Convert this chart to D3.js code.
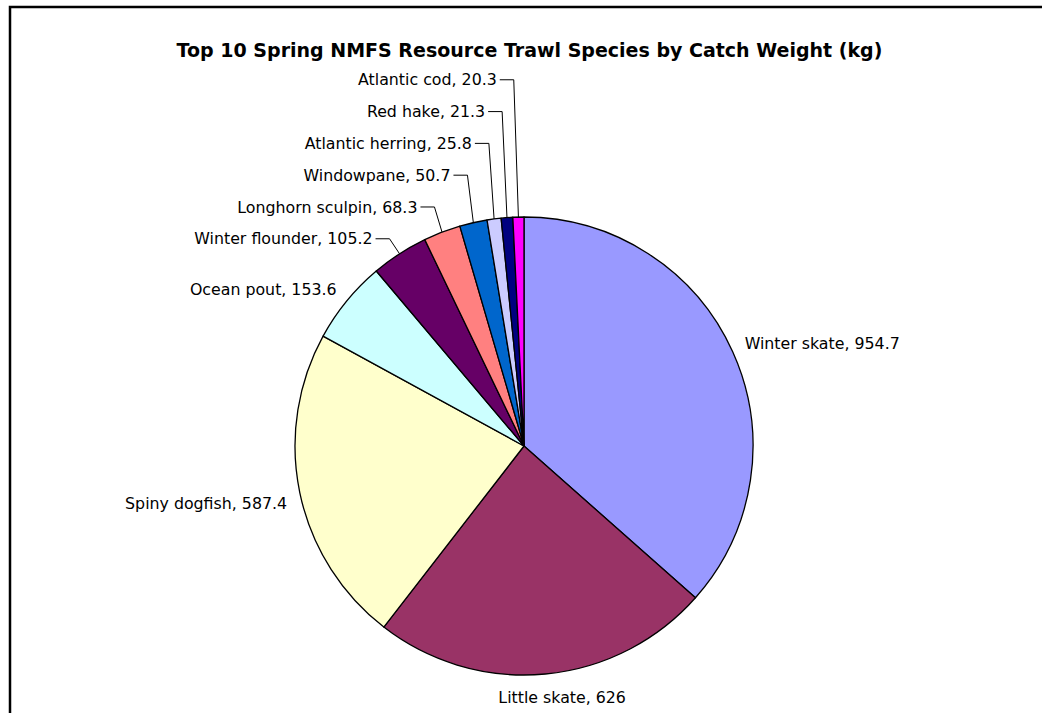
<!DOCTYPE html>
<html>
<head>
<meta charset="utf-8">
<script src="https://cdn.jsdelivr.net/npm/d3@7/dist/d3.min.js"></script>
<style>
  html, body { margin: 0; padding: 0; background: #fff; }
  svg { display: block; }
  text { font-family: "DejaVu Sans", Verdana, sans-serif; fill: #000; }
</style>
</head>
<body>
<svg id="chart" width="1042" height="713"></svg>
<script>
// ---- data ----
const categories = ["Winter skate", "Little skate", "Spiny dogfish", "Ocean pout", "Winter flounder",
  "Longhorn sculpin", "Windowpane", "Atlantic herring", "Red hake", "Atlantic cod"];
const values = [954.7, 626, 587.4, 153.6, 105.2, 68.3, 50.7, 25.8, 21.3, 20.3];
const colors = ["#9999FF", "#993366", "#FFFFCC", "#CCFFFF", "#660066",
  "#FF8080", "#0066CC", "#CCCCFF", "#000080", "#FF00FF"];
const title = "Top 10 Spring NMFS Resource Trawl Species by Catch Weight (kg)";

// ---- layout ----
const W = 1042, H = 713;
const cx = 524, cy = 446, R = 229;
const svg = d3.select("#chart");

// frame (cut off at right and bottom like the reference)
svg.append("rect").attr("x", 10).attr("y", 7).attr("width", 1100).attr("height", 800)
  .attr("fill", "#fff").attr("stroke", "#000").attr("stroke-width", 2.5);

svg.append("text").attr("x", 529.5).attr("y", 57).attr("text-anchor", "middle")
  .attr("font-weight", "bold").attr("font-size", 19).text(title);

const data = categories.map((c, i) => ({ name: c, value: values[i], color: colors[i], idx: i }));
const pie = d3.pie().sort(null).value(d => d.value).startAngle(0).endAngle(2 * Math.PI);
const arcs = pie(data);
const arc = d3.arc().innerRadius(0).outerRadius(R);

const g = svg.append("g").attr("transform", `translate(${cx},${cy})`);
g.selectAll("path.slice").data(arcs).join("path")
  .attr("class", "slice")
  .attr("d", arc)
  .attr("fill", d => d.data.color)
  .attr("stroke", "#000")
  .attr("stroke-width", 1.3)
  .attr("stroke-linejoin", "round");

const fs = 15.8;
const labelText = d => `${d.data.name}, ${d.data.value}`;
const mid = d => (d.startAngle + d.endAngle) / 2;

// large slices: labels placed outside, no leader
const Rl = 242, k = 2.6, hEff = 14;
const clamp = v => Math.max(-1, Math.min(1, v));
arcs.slice(0, 4).forEach(d => {
  const a = mid(d);
  const px = cx + Rl * Math.sin(a), py = cy - Rl * Math.cos(a);
  const t = svg.append("text").attr("font-size", fs).attr("text-anchor", "middle")
    .attr("dy", "0.35em").text(labelText(d));
  const w = t.node().getComputedTextLength();
  const s = clamp(k * Math.sin(a)), c = clamp(k * Math.cos(a));
  t.attr("x", px + w * s / 2).attr("y", py - hEff * c / 2 + 4);
});

// small slices: stacked labels with leader lines
const small = arcs.slice(4);
const pts = small.map(d => {
  const a = mid(d);
  return { d, ax: cx + R * Math.sin(a), ay: cy - R * Math.cos(a) };
});
const baseY = pts[0].ay - 15, step = 31.8;
pts.forEach((p, i) => {
  const ly = baseY - i * step;
  const kneeX = p.ax - 4 - 90 / (p.ay - ly);
  svg.append("polyline")
    .attr("points", `${kneeX - 14},${ly} ${kneeX},${ly} ${p.ax},${p.ay}`)
    .attr("fill", "none").attr("stroke", "#000").attr("stroke-width", 1);
  svg.append("text").attr("font-size", fs).attr("text-anchor", "end")
    .attr("x", kneeX - 17).attr("y", ly).attr("dy", "0.35em").text(labelText(p.d));
});
</script>
</body>
</html>
